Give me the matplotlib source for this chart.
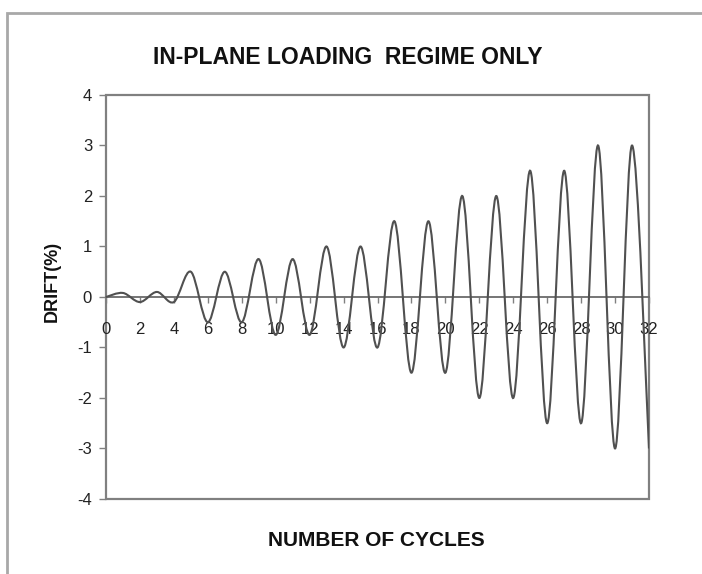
import numpy as np
import matplotlib
matplotlib.use("Agg")
import matplotlib.pyplot as plt
from matplotlib.path import Path
from matplotlib.patches import PathPatch, Rectangle

plt.rcParams["font.family"] = ["Liberation Sans", "DejaVu Sans"]
plt.rcParams["axes.unicode_minus"] = False

# drift read at each cycle (peaks at odd cycles, troughs at even)
cycles = list(range(0, 33))
drift = [0, 0.08, -0.1, 0.1, -0.1,
         0.5, -0.5, 0.5, -0.5,
         0.75, -0.75, 0.75, -0.75,
         1.0, -1.0, 1.0, -1.0,
         1.5, -1.5, 1.5, -1.5,
         2.0, -2.0, 2.0, -2.0,
         2.5, -2.5, 2.5, -2.5,
         3.0, -3.0, 3.0, -3.0]
x_ticks = list(range(0, 33, 2))
y_ticks = list(range(-4, 5))


def smooth_path(xs, ys, k=1.0 / 6):
    """Excel-like smoothed line as cubic Bezier segments."""
    pts = np.column_stack([xs, ys]).astype(float)
    n = len(pts)
    verts = [pts[0]]
    codes = [Path.MOVETO]
    for i in range(n - 1):
        p0 = pts[max(i - 1, 0)]
        p1 = pts[i]
        p2 = pts[i + 1]
        p3 = pts[min(i + 2, n - 1)]
        verts += [p1 + (p2 - p0) * k, p2 - (p3 - p1) * k, p2]
        codes += [Path.CURVE4] * 3
    return Path(verts, codes)


fig = plt.figure(figsize=(7.02, 5.74), dpi=100)
ax = fig.add_axes([0.151, 0.1307, 0.7735, 0.7038])

ax.add_patch(PathPatch(smooth_path(cycles, drift), fill=False,
                       edgecolor="#505050", lw=1.5, zorder=3))

ax.set_xlim(0, 32)
ax.set_ylim(-4, 4)
ax.set_xticks(x_ticks)
ax.set_yticks(y_ticks)

for side in ["left", "top", "right"]:
    ax.spines[side].set_visible(False)
ax.spines["bottom"].set_position(("data", 0))
ax.spines["bottom"].set_color("#6a6a6a")
ax.spines["bottom"].set_linewidth(1.3)
ax.patch.set_edgecolor("#808080")
ax.patch.set_linewidth(1.6)

ax.tick_params(axis="x", direction="out", length=4, width=1, color="#808080",
               labelsize=12, pad=14, labelcolor="#222222")
ax.tick_params(axis="y", direction="out", length=5, width=1, color="#808080",
               labelsize=12, pad=5, labelcolor="#222222")

fig.text(0.495, 0.9, "IN-PLANE LOADING  REGIME ONLY", ha="center", va="center",
         fontsize=16.5, fontweight="bold", color="#111111")
fig.text(0.536, 0.059, "NUMBER OF CYCLES", ha="center", va="center",
         fontsize=15, fontweight="bold", color="#111111")
fig.text(0.075, 0.51, "DRIFT(%)", ha="center", va="center", rotation=90,
         fontsize=13, fontweight="bold", color="#111111")

fig.add_artist(Rectangle((7 / 702, -0.1), 1.2, 1 - 13 / 574 + 0.1,
                         transform=fig.transFigure, fill=False,
                         edgecolor="#a8a8a8", lw=2))

fig.savefig("out.png", dpi=100)
